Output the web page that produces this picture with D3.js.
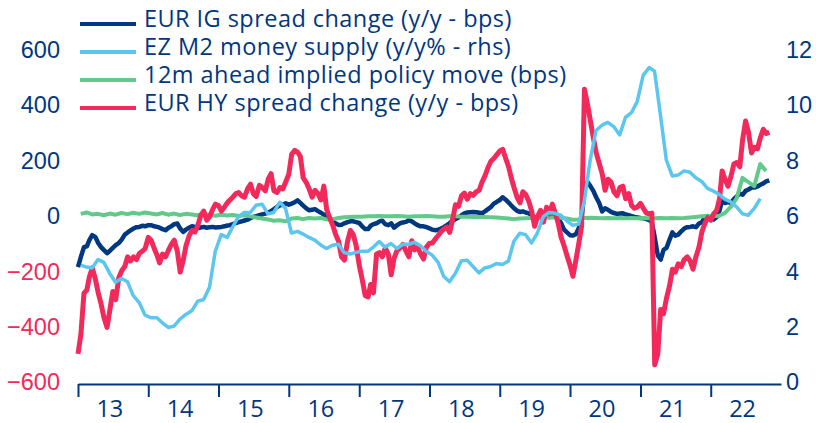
<!DOCTYPE html>
<html><head><meta charset="utf-8">
<script src="https://cdn.jsdelivr.net/npm/d3@7"></script>
<style>html,body{margin:0;padding:0;background:#fff;} svg{display:block;font-family:"Open Sans","Noto Sans",sans-serif;}</style>
</head><body>
<svg id="chart" width="816" height="423"></svg>
<script>
// ---- data ----
const yearLabels = ["13","14","15","16","17","18","19","20","21","22"];
const leftTicks = [-600,-400,-200,0,200,400,600];
const rightTicks = [0,2,4,6,8,10,12];
const seriesNames = ["EUR IG spread change (y/y - bps)","EZ M2 money supply (y/y% - rhs)","12m ahead implied policy move (bps)","EUR HY spread change (y/y - bps)"];

// semi-monthly observations (1st & 16th of each month from Jan 2013)
const igSpread = [-187,-150,-115,-112,-90,-72,-78,-100,-115,-126,-137,-128,-118,-108,-100,-88,-70,-62,-55,-48,
-43,-42,-38,-40,-36,-36,-40,-42,-45,-50,-54,-45,-40,-32,-30,-48,-60,-52,-45,-40,
-42,-46,-44,-42,-45,-43,-42,-44,-43,-42,-40,-37,-36,-32,-28,-25,-22,-19,-16,-10,
-6,-3,0,3,6,10,15,22,30,36,38,43,38,42,47,54,45,35,25,18,
20,22,15,9,2,-5,-11,-22,-30,-35,-34,-29,-25,-22,-22,-25,-28,-40,-50,-50,
-38,-32,-29,-22,-20,-32,-36,-29,-45,-36,-29,-26,-24,-18,-22,-29,-36,-40,-40,-43,
-47,-52,-54,-52,-48,-43,-36,-28,-20,-14,-8,0,7,10,11,12,11,9,7,14,
22,30,42,48,55,65,56,46,36,25,16,12,14,10,7,0,-8,-11,-2,-5,
-3,-7,-4,0,-12,-29,-52,-62,-72,-73,-68,-45,-10,90,120,105,88,65,43,14,
25,20,12,8,5,6,7,3,0,-3,-6,-8,-10,-11,-14,-18,-24,-80,-145,-160,
-125,-118,-88,-62,-74,-70,-58,-48,-43,-42,-40,-43,-30,-25,-8,-3,-10,-15,-6,18,
52,44,48,44,58,68,78,74,88,93,100,100,104,110,115,122,126];

const hySpread = [-500,-430,-281,-270,-223,-190,-230,-280,-320,-370,-405,-340,-275,-305,-225,-200,-185,-150,-165,-150,
-160,-137,-130,-120,-80,-90,-120,-145,-172,-140,-150,-126,-105,-90,-130,-205,-165,-110,-75,-55,
-60,-35,0,15,-18,-5,20,40,35,15,30,45,55,65,78,82,70,65,95,112,
78,68,108,100,88,130,150,88,82,100,95,120,148,220,234,228,212,135,118,95,
65,90,78,55,105,20,-10,-35,-70,-95,-150,-162,-95,-55,-70,-110,-180,-230,-290,-295,
-250,-280,-140,-135,-150,-118,-140,-215,-155,-128,-118,-105,-130,-150,-92,-125,-115,-140,-158,-115,
-101,-100,-85,-72,-60,-50,-43,-62,-15,38,32,70,80,58,78,72,85,90,120,142,
172,195,205,218,232,238,205,175,137,100,65,45,85,75,50,15,-40,-5,18,-25,
29,5,40,8,-30,-80,-110,-145,-180,-220,-160,-100,-40,455,400,340,280,225,187,150,
90,130,120,85,70,100,105,60,78,35,25,30,43,25,8,5,8,-540,-500,-340,
-355,-300,-255,-195,-205,-175,-185,-160,-150,-165,-195,-150,-115,-60,-30,-8,-18,5,18,60,
160,130,105,140,185,190,175,275,340,300,225,245,240,280,310,295,300];

// monthly observations (mid-month, from Jan 2013)
const policyMove = [5,10,3,5,0,6,2,8,4,9,5,10,6,3,8,2,6,1,5,3,
0,4,1,-2,2,-1,1,-3,0,-4,-8,-12,-15,-20,-18,-22,-12,-10,-14,-10,
-12,-10,-15,-14,-10,-7,-6,-5,-5,-4,-4,-3,-4,-4,-3,-4,-5,-4,-4,-3,
-4,-5,-5,-4,-4,-5,-5,-6,-6,-6,-7,-8,-10,-12,-14,-12,-11,-10,-9,-8,
-7,-8,-9,-12,-16,-15,-10,-9,-10,-11,-10,-11,-10,-11,-10,-11,-10,-11,-11,-10,
-11,-10,-11,-10,-8,-6,-4,-3,-4,-2,8,30,60,135,120,105,185,160];

const m2Growth = [4.2,4.13,4.1,4.4,4.3,3.9,3.58,3.72,3.6,3.1,2.85,2.4,2.3,2.3,2.12,1.95,2.0,2.25,2.42,2.55,
2.9,2.95,3.4,4.7,5.3,5.2,5.57,5.95,6.1,6.1,6.36,6.4,6.05,6.1,6.47,6.25,5.36,5.42,5.32,5.2,
5.1,4.93,4.8,4.92,4.95,4.65,4.6,4.66,4.7,4.7,4.85,5.05,4.85,4.98,4.8,4.95,4.95,5.03,4.9,4.7,
4.56,4.3,3.8,3.6,3.9,4.35,4.38,4.15,3.92,4.1,4.15,4.26,4.22,4.35,5.05,5.35,5.3,5.0,5.35,5.95,
6.1,6.07,6.0,5.8,5.64,5.68,6.5,8.0,9.06,9.25,9.35,9.2,8.9,9.53,9.7,10.1,11.05,11.33,11.2,9.6,
8.0,7.42,7.45,7.6,7.55,7.35,7.22,6.97,6.87,6.75,6.58,6.48,6.3,6.05,6.0,6.25,6.6];

// ---- colours ----
const navy = "#003781", sky = "#5bc6f0", green = "#62c98a", red = "#f2295b";

const semiDates = igSpread.map((_, j) => new Date(2013, Math.floor(j/2), j % 2 ? 16 : 1));
const monthDates = n => d3.range(n).map(i => new Date(2013, i, 15));

const svg = d3.select("#chart");
const x = d3.scaleTime().domain([new Date(2013,0,1), new Date(2023,0,1)]).range([78, 781]);
const yL = d3.scaleLinear().domain([-600, 600]).range([381.5, 49]);
const yR = d3.scaleLinear().domain([0, 12]).range([381.5, 49]);
const FS = 23.5;

// x axis
const yearStarts = yearLabels.map((_, i) => new Date(2013 + i, 0, 1));
const xAxis = svg.append("g").attr("transform", "translate(0,384)")
  .call(d3.axisBottom(x).tickValues(yearStarts).tickSize(13).tickSizeOuter(0).tickFormat(""));
xAxis.select(".domain").attr("stroke", navy).attr("stroke-width", 2);
xAxis.selectAll(".tick line").attr("stroke", navy).attr("stroke-width", 2);
svg.append("g").selectAll("text").data(yearLabels).join("text")
  .attr("x", (d, i) => x(new Date(2013 + i, 6, 1)) - 3)
  .attr("y", 417).attr("text-anchor", "middle")
  .attr("font-size", FS).attr("fill", navy).text(d => d);

// left axis
const la = svg.append("g").attr("transform", "translate(62,0)")
  .call(d3.axisLeft(yL).tickValues(leftTicks).tickSize(0).tickPadding(2));
la.select(".domain").remove();
la.selectAll("text").attr("font-size", FS).attr("font-family", null)
  .attr("fill", d => d < 0 ? red : navy).attr("dy", "0.36em");

// right axis
const ra = svg.append("g").attr("transform", "translate(786,0)")
  .call(d3.axisRight(yR).tickValues(rightTicks).tickSize(0).tickPadding(0));
ra.select(".domain").remove();
ra.selectAll("text").attr("font-size", FS).attr("font-family", null)
  .attr("fill", navy).attr("dy", "0.36em");

// lines
const lineL = d3.line().x(d => x(d[0])).y(d => yL(d[1]));
const lineR = d3.line().x(d => x(d[0])).y(d => yR(d[1]));
const zip = (dates, vals) => vals.map((v, i) => [dates[i], v]);

function draw(data, gen, color, w) {
  svg.append("path").datum(data).attr("d", gen).attr("fill", "none")
    .attr("stroke", color).attr("stroke-width", w)
    .attr("stroke-linejoin", "round").attr("stroke-linecap", "butt");
}
draw(zip(semiDates, igSpread), lineL, navy, 4.5);
draw(zip(monthDates(policyMove.length), policyMove), lineL, green, 4);
draw(zip(semiDates, hySpread), lineL, red, 5);
draw(zip(monthDates(m2Growth.length), m2Growth), lineR, sky, 3.5);

// legend
const legColors = [navy, sky, green, red];
const leg = svg.append("g");
seriesNames.forEach((name, k) => {
  leg.append("line").attr("x1", 80).attr("x2", 136).attr("y1", 24 + 28 * k).attr("y2", 24 + 28 * k)
    .attr("stroke", legColors[k]).attr("stroke-width", 4);
  leg.append("text").attr("x", 144).attr("y", 27 + 28 * k).attr("font-size", FS)
    .attr("letter-spacing", 0.45).attr("fill", navy).text(name);
});
</script>
</body></html>
